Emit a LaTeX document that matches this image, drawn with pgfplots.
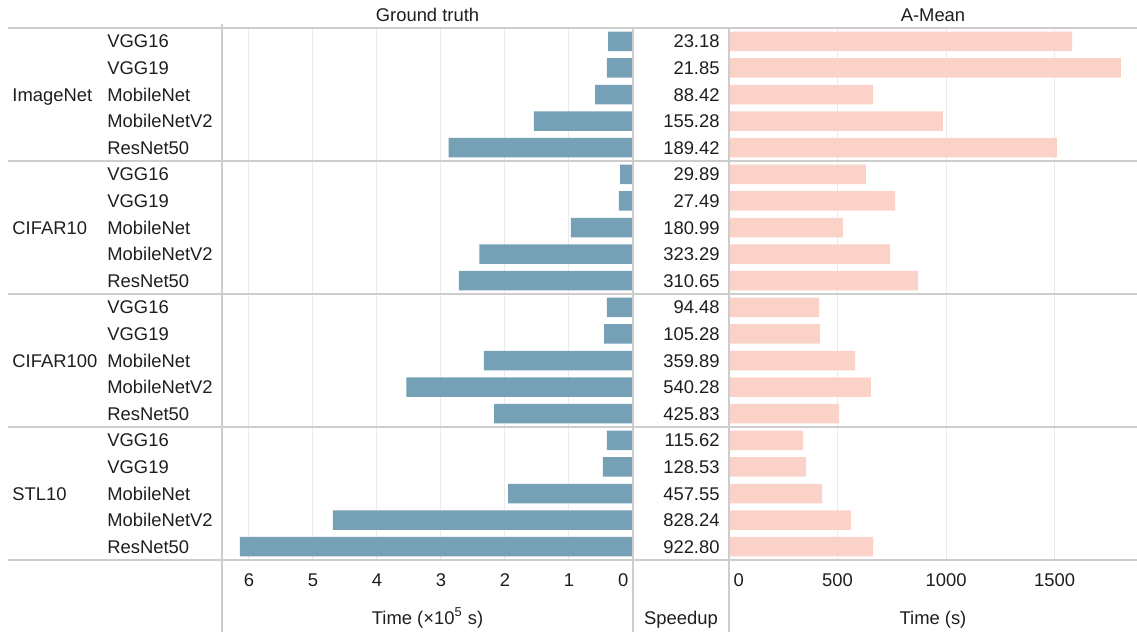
\documentclass[border=0pt]{standalone}
\usepackage{pgfplots}
\pgfplotsset{compat=1.18}
\usepackage{pgfplotstable}
\usepackage{fontspec}
\setmainfont{Liberation Sans}
\definecolor{gtblue}{RGB}{117,160,182}
\definecolor{ampink}{RGB}{251,210,200}
\definecolor{sepgray}{RGB}{205,205,205}
\definecolor{gridgray}{RGB}{234,234,234}
\definecolor{txt}{RGB}{30,30,30}

% row: 20 = top (ImageNet VGG16) ... 1 = bottom (STL10 ResNet50)
% gt in 1e5 s, am in s, sp speedup
\pgfplotstableread{
row gt am sx sp
20 0.39 1581 0.906 23.18
19 0.41 1806 0.906 21.85
18 0.59 664 0.906 88.42
17 1.55 986 0.906 155.28
16 2.88 1511 0.906 189.42
15 0.20 631 0.906 29.89
14 0.22 765 0.906 27.49
13 0.97 525 0.906 180.99
12 2.40 742 0.906 323.29
11 2.72 871 0.906 310.65
10 0.41 415 0.906 94.48
9 0.45 419 0.906 105.28
8 2.33 581 0.906 359.89
7 3.54 654 0.906 540.28
6 2.17 507 0.906 425.83
5 0.41 341 0.906 115.62
4 0.47 355 0.906 128.53
3 1.95 429 0.906 457.55
2 4.69 562 0.906 828.24
1 6.14 664 0.906 922.80
}\data

\pgfplotsset{
  common/.style={
    scale only axis, anchor=north west, height=266pt,
    ymin=0.5, ymax=20.5,
    axis line style={draw=none}, major tick length=0pt,
    ytick=\empty, clip=false,
    /pgf/number format/assume math mode=true,
    /pgf/number format/1000 sep={},
    scaled x ticks=false,
    xticklabel style={anchor=base, yshift=-13.25pt, text=txt},
    xlabel style={at={(axis description cs:0.5,0)}, anchor=base, yshift=-32.3pt, text=txt},
    title style={at={(axis description cs:0.5,1)}, anchor=base, yshift=-2.6pt, text=txt},
    grid style={gridgray, line width=0.5pt},
  },
}

\begin{document}
\fontsize{9.2pt}{11pt}\selectfont
\begin{tikzpicture}
% Ground truth panel
\begin{axis}[common, at={(111pt,-14pt)}, width=205.5pt,
  xmin=0, xmax=6.42, x dir=reverse,
  xtick={1,2,3,4,5,6}, extra x ticks={0},
  extra x tick style={grid=none, xticklabel style={anchor=base east, xshift=1pt}},
  xmajorgrids, xbar, bar width=9.75pt,
  title={Ground truth}, xlabel={Time (×10\textsuperscript{5} s)}]
\addplot[fill=gtblue, draw=none] table[x=gt, y=row] {\data};
\end{axis}
% Speedup column with category labels
\begin{axis}[common, at={(316.5pt,-14pt)}, width=48pt,
  xmin=0, xmax=1, xtick=\empty, xlabel={Speedup},
  ytick={1,...,20},
  yticklabels={ResNet50,MobileNetV2,MobileNet,VGG19,VGG16,
               ResNet50,MobileNetV2,MobileNet,VGG19,VGG16,
               ResNet50,MobileNetV2,MobileNet,VGG19,VGG16,
               ResNet50,MobileNetV2,MobileNet,VGG19,VGG16},
  yticklabel style={anchor=base west, inner sep=0pt, xshift=-263pt, yshift=-3.3pt, text=txt},
  extra y ticks={3,8,13,18},
  extra y tick labels={STL10,CIFAR100,CIFAR10,ImageNet},
  extra y tick style={grid=none, yticklabel style={xshift=-47.5pt}}]
\addplot[draw=none, mark=none, nodes near coords, point meta=explicit symbolic,
  nodes near coords style={anchor=base east, inner sep=0pt, yshift=-3.3pt, text=txt}]
  table[x=sx, y=row, meta=sp] {\data};
\end{axis}
% A-Mean panel
\begin{axis}[common, at={(364.5pt,-14pt)}, width=204pt,
  xmin=0, xmax=1880,
  xtick={500,1000,1500}, extra x ticks={0},
  extra x tick style={grid=none, xticklabel style={anchor=base west, xshift=-1pt}},
  xmajorgrids, xbar, bar width=9.75pt,
  title={A-Mean}, xlabel={Time (s)}]
\addplot[fill=ampink, draw=none] table[x=am, y=row] {\data};
\end{axis}
% separator lines
\begin{scope}[sepgray, line width=0.75pt]
\draw (4pt,-14pt) -- (568.5pt,-14pt);
\draw (4pt,-80.5pt) -- (568.5pt,-80.5pt);
\draw (4pt,-147pt) -- (568.5pt,-147pt);
\draw (4pt,-213.5pt) -- (568.5pt,-213.5pt);
\draw (4pt,-280pt) -- (568.5pt,-280pt);
\draw (111pt,-12pt) -- (111pt,-316pt);
\draw (316.5pt,-14pt) -- (316.5pt,-316pt);
\draw (364.5pt,-14pt) -- (364.5pt,-316pt);
\end{scope}
\pgfresetboundingbox
\path (0,0) rectangle (568.5pt,-316pt);
\end{tikzpicture}
\end{document}
